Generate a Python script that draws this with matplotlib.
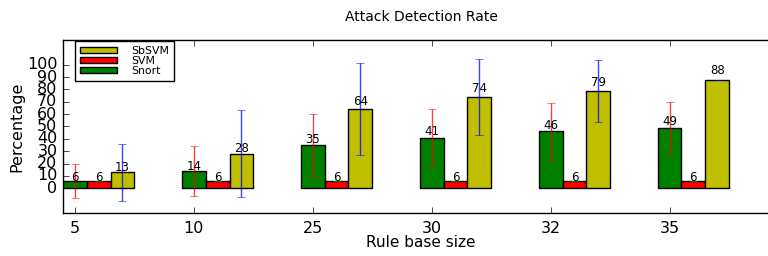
import numpy as np
import matplotlib
matplotlib.use('Agg')
import matplotlib.pyplot as plt

plt.style.use('classic')

# values
rule_sizes = ['5', '10', '25', '30', '32', '35']
snort = [6, 14, 35, 41, 46, 49]
svm = [6, 6, 6, 6, 6, 6]
sbsvm = [13, 28, 64, 74, 79, 88]
snort_err = [14, 20, 25, 23, 23, 21]
svm_err = [0, 0, 0, 0, 0, 0]
sbsvm_err = [23, 35, 37, 31, 25, 0]

fig = plt.figure(figsize=(7.68, 2.56), dpi=100, facecolor='white')
ax = fig.add_axes([63 / 768, 43 / 256, 716 / 768, 173 / 256])

ind = np.arange(len(rule_sizes))
width = 0.2

rects1 = ax.bar(ind, snort, width, color='g', edgecolor='k', yerr=snort_err,
                error_kw=dict(ecolor='r', capsize=3, alpha=0.75))
rects2 = ax.bar(ind + width, svm, width, color='r', edgecolor='k', yerr=svm_err,
                error_kw=dict(ecolor='g', capsize=3))
rects3 = ax.bar(ind + 2 * width, sbsvm, width, color='y', edgecolor='k', yerr=sbsvm_err,
                error_kw=dict(ecolor='b', capsize=3, alpha=0.75))


def autolabel(rects):
    for rect in rects:
        height = rect.get_height()
        ax.text(rect.get_x() + rect.get_width() / 2., 1.05 * height, '%d' % int(height),
                ha='center', va='baseline', fontsize=8.5)


autolabel(rects1)
autolabel(rects2)
autolabel(rects3)

ax.set_xlim(-0.1, 5.92)
ax.set_ylim(-20, 120)
ax.set_xticks(ind)
ax.set_xticklabels(rule_sizes, fontsize=11.5)
ax.set_yticks(range(0, 101, 10))
ax.tick_params(axis='y', labelsize=11.5)
ax.tick_params(axis='x', pad=6)
ax.set_xlabel('Rule base size', fontsize=11, labelpad=-1)
ax.set_ylabel('Percentage', fontsize=11.5, labelpad=2)
ax.set_title('Attack Detection Rate', fontsize=10, pad=14)

ax.legend((rects3[0], rects2[0], rects1[0]), ('SbSVM', 'SVM', 'Snort'),
          loc='upper left', bbox_to_anchor=(0.017, 0.994), borderaxespad=0,
          fontsize=7.8, labelspacing=0, handlelength=3.4, handleheight=0.4,
          handletextpad=1.3, borderpad=0.45)

fig.savefig('out.png', dpi=100, facecolor='white')
